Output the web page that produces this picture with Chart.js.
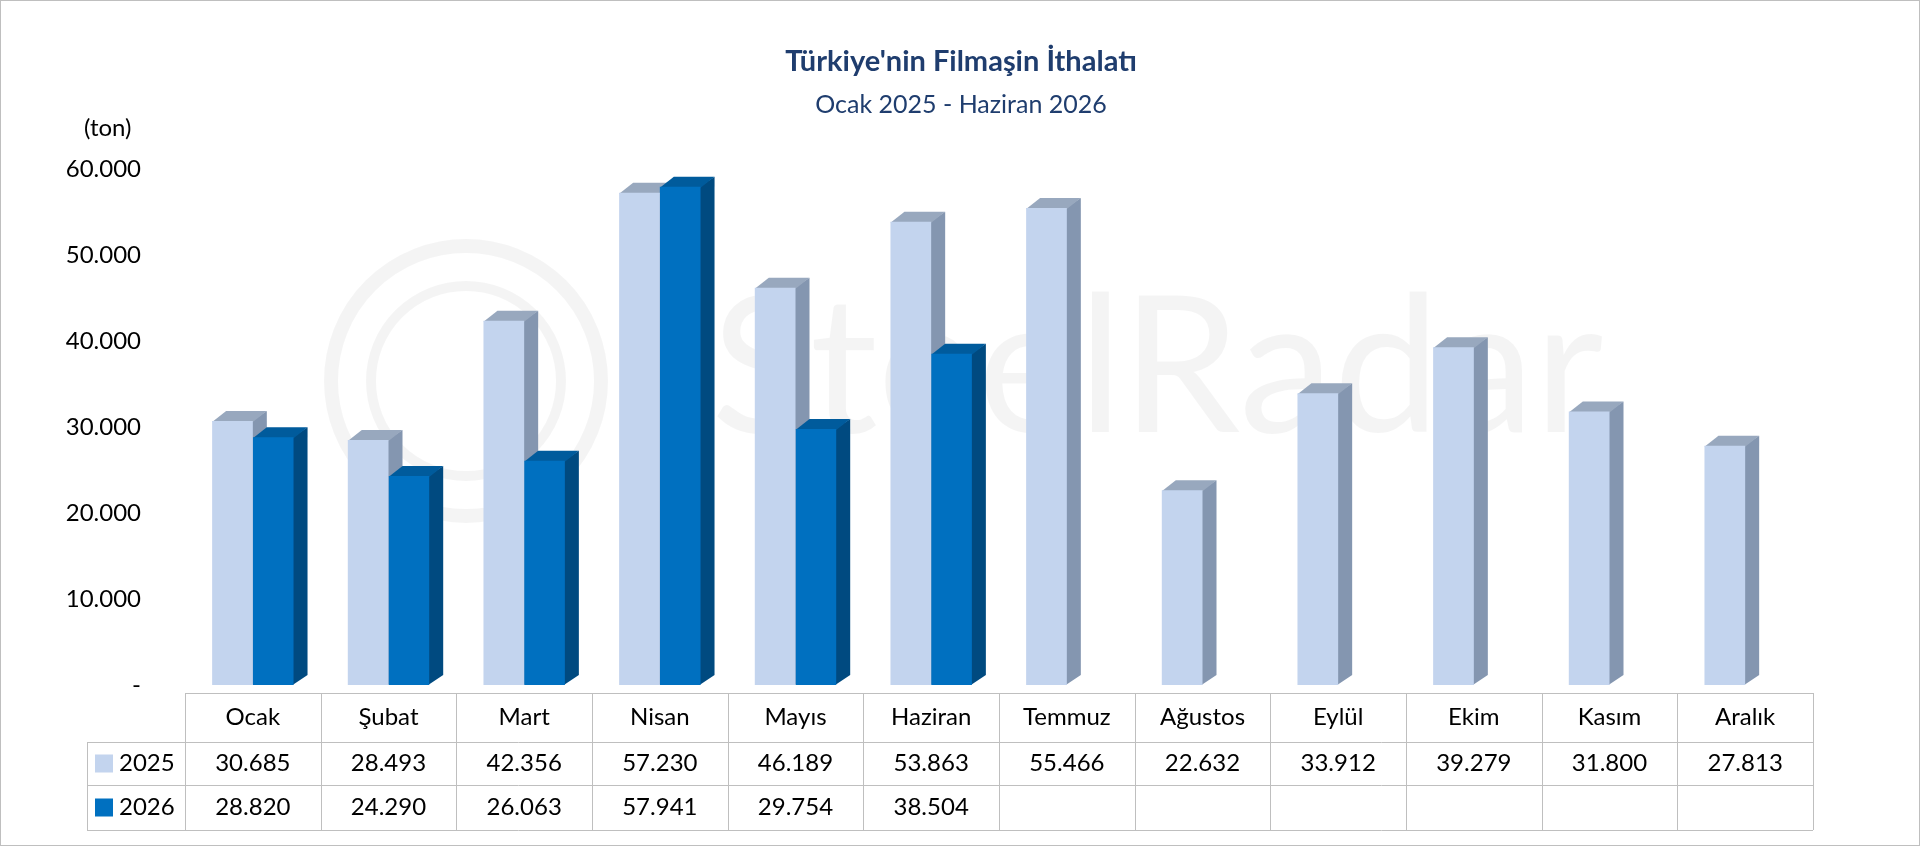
<!DOCTYPE html>
<html><head><meta charset="utf-8">
<script src="https://cdn.jsdelivr.net/npm/chart.js@4"></script>
<style>
html,body{margin:0;padding:0;background:#fff}
#wrap{position:relative;width:1918px;height:844px;border:1px solid #bfbfbf}
</style></head><body>
<div id="wrap"><canvas id="c" width="1918" height="844"></canvas></div>
<script>
var months = ['Ocak','Şubat','Mart','Nisan','Mayıs','Haziran','Temmuz','Ağustos','Eylül','Ekim','Kasım','Aralık'];
var values2025 = [30685,28493,42356,57230,46189,53863,55466,22632,33912,39279,31800,27813];
var values2026 = [28820,24290,26063,57941,29754,38504,null,null,null,null,null,null];
var seriesNames = ['2025','2026'];
var yTicks = [0,10000,20000,30000,40000,50000,60000];

var FONT = 'Lato, "Open Sans", sans-serif';
var fronts = ['#c3d4ee','#0070c0'];
var sides = ['#8496b0','#004a80'];
var tops = ['#98a8be','#005b9c'];
var DX = 14, DY = 10;

function fmt(v){ return v.toString().replace(/\B(?=(\d{3})+(?!\d))/g,'.'); }

var deco = {
  id:'deco',
  beforeDatasetsDraw: function(chart){
    var ctx = chart.ctx;
    ctx.save();
    ctx.strokeStyle = 'rgba(0,0,0,0.045)';
    ctx.lineWidth = 14;
    ctx.beginPath(); ctx.arc(465,380,135,0,Math.PI*2); ctx.stroke();
    ctx.lineWidth = 10;
    ctx.beginPath(); ctx.arc(465,380,95,0,Math.PI*2); ctx.stroke();
    ctx.fillStyle = 'rgba(0,0,0,0.045)';
    ctx.font = '190px ' + FONT;
    ctx.textBaseline = 'middle';
    ctx.fillText('SteelRadar', 710, 370);
    ctx.restore();
    // 3D side and top faces, drawn before fronts so the next bar covers them
    chart.data.datasets.forEach(function(ds, di){
      chart.getDatasetMeta(di).data.forEach(function(b, i){
        if (ds.data[i] == null) return;
        var l = b.x - b.width/2, r = b.x + b.width/2, t = b.y, bt = b.base;
        ctx.fillStyle = sides[di];
        ctx.beginPath(); ctx.moveTo(r-1,t); ctx.lineTo(r+DX,t-DY); ctx.lineTo(r+DX,bt-DY); ctx.lineTo(r-1,bt); ctx.closePath(); ctx.fill();
        ctx.fillStyle = tops[di];
        ctx.beginPath(); ctx.moveTo(l,t+1); ctx.lineTo(l+DX,t-DY); ctx.lineTo(r+DX,t-DY); ctx.lineTo(r,t+1); ctx.closePath(); ctx.fill();
      });
    });
  },
  afterDatasetsDraw: function(chart){
    var ctx = chart.ctx;
    var xs = chart.scales.x, area = chart.chartArea;
    var rows = [692,741,784,829], left = 86;
    var n = months.length, w = (area.right - area.left)/n;
    ctx.save();
    ctx.strokeStyle = '#bfbfbf'; ctx.lineWidth = 1;
    ctx.beginPath();
    ctx.moveTo(area.left, rows[0]+0.5); ctx.lineTo(area.right, rows[0]+0.5);
    for (var k=1;k<4;k++){ ctx.moveTo(left, rows[k]+0.5); ctx.lineTo(area.right, rows[k]+0.5); }
    ctx.moveTo(left+0.5, rows[1]); ctx.lineTo(left+0.5, rows[3]);
    for (var j=0;j<=n;j++){ var gx = Math.round(area.left + j*w)+0.5; ctx.moveTo(gx, rows[0]); ctx.lineTo(gx, rows[3]); }
    ctx.stroke();
    ctx.fillStyle = '#000'; ctx.font = '24px ' + FONT;
    ctx.textAlign = 'center'; ctx.textBaseline = 'middle';
    var all = [values2025, values2026];
    months.forEach(function(m, i){
      var cx = xs.getPixelForValue(i);
      ctx.fillText(m, cx, (rows[0]+rows[1])/2);
      for (var s=0;s<2;s++) if (all[s][i] != null) ctx.fillText(fmt(all[s][i]), cx, (rows[s+1]+rows[s+2])/2);
    });
    ctx.textAlign = 'left';
    for (var s2=0;s2<2;s2++){
      var cy = (rows[s2+1]+rows[s2+2])/2;
      ctx.fillStyle = fronts[s2]; ctx.fillRect(94, cy-9, 18, 18);
      ctx.fillStyle = '#000'; ctx.fillText(seriesNames[s2], 118, cy);
    }
    ctx.fillText('(ton)', 83, 127);
    ctx.fillStyle = '#1f3d6e'; ctx.textAlign = 'center';
    ctx.font = 'bold 29px ' + FONT; ctx.fillText("Türkiye'nin Filmaşin İthalatı", 960, 61);
    ctx.font = '25px ' + FONT; ctx.fillText('Ocak 2025 - Haziran 2026', 960, 104);
    ctx.restore();
  }
};

new Chart(document.getElementById('c'), {
  type:'bar',
  data:{ labels: months, datasets: [
    { label: seriesNames[0], data: values2025, backgroundColor: fronts[0] },
    { label: seriesNames[1], data: values2026, backgroundColor: fronts[1] }
  ]},
  options:{
    responsive:false, animation:false,
    layout:{ padding:{ top:168, bottom:152, right:106, left:0 } },
    categoryPercentage:0.6, barPercentage:1.0,
    plugins:{ legend:{display:false}, tooltip:{enabled:false} },
    scales:{
      x:{ grid:{display:false}, border:{display:false}, ticks:{display:false} },
      y:{ min:0, max:60000, grid:{display:false}, border:{display:false},
          afterFit:function(s){ s.width = 184; },
          afterBuildTicks:function(s){ s.ticks = yTicks.map(function(v){return {value:v};}); },
          ticks:{ color:'#000', font:{family:FONT, size:24}, padding:36,
                  callback:function(v){ return v===0 ? '-' : fmt(v); } } }
    }
  },
  plugins:[deco]
});
</script>
</body></html>
